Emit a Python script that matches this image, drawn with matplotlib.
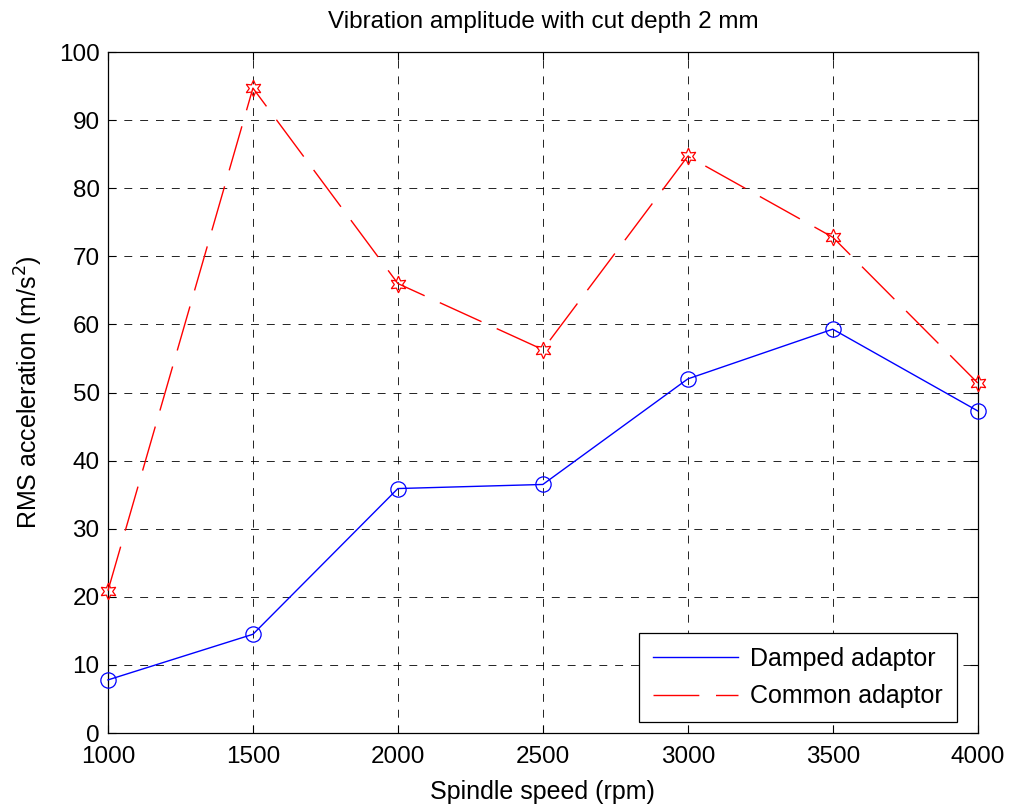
import matplotlib
matplotlib.use("Agg")
import matplotlib.pyplot as plt
from matplotlib.ticker import MultipleLocator

plt.rcParams['font.family'] = ['Liberation Sans', 'DejaVu Sans']

speed = [1000, 1500, 2000, 2500, 3000, 3500, 4000]
damped = [7.8, 14.5, 35.9, 36.5, 52.0, 59.3, 47.3]
common = [20.9, 94.7, 66.0, 56.3, 84.7, 72.8, 51.4]

fig = plt.figure(figsize=(10.09, 8.05), dpi=100)
ax = fig.add_axes([0.107, 0.0894, 0.862, 0.846])

ax.plot(speed, damped, color='blue', linewidth=1.0, marker='o', markersize=11,
        markerfacecolor='none', markeredgecolor='blue', markeredgewidth=0.9,
        label='Damped adaptor', clip_on=False, zorder=3)
ax.plot(speed, common, color='red', linewidth=1.0, dashes=(33, 12), marker=(6, 1, 0),
        markersize=12, markerfacecolor='none', markeredgecolor='red',
        markeredgewidth=0.9, label='Common adaptor', clip_on=False, zorder=3)

ax.set_xlim(1000, 4000)
ax.set_ylim(0, 100)
ax.xaxis.set_major_locator(MultipleLocator(500))
ax.yaxis.set_major_locator(MultipleLocator(10))
ax.grid(True, color='black', linestyle=(0, (9.5, 9.5)), linewidth=0.6)
ax.tick_params(direction='in', top=True, right=True, labelsize=17.5, length=6)
ax.tick_params(axis='x', pad=9)
ax.tick_params(axis='y', pad=6)
for s in ax.spines.values():
    s.set_linewidth(0.9)

ax.set_title('Vibration amplitude with cut depth 2 mm', fontsize=17.5, pad=17)
ax.set_xlabel('Spindle speed (rpm)', fontsize=18, labelpad=9)
ax.set_ylabel('RMS acceleration (m/s$^2$)', fontsize=18, labelpad=10)

leg = ax.legend(loc='lower right', bbox_to_anchor=(0.976, 0.016), fontsize=18,
                fancybox=False, edgecolor='black', framealpha=1, borderaxespad=0,
                handlelength=3.4, handletextpad=0.5, borderpad=0.55, labelspacing=0.55)
for h in leg.legend_handles:
    h.set_marker('')
leg.get_frame().set_linewidth(0.9)

fig.savefig('out.png', dpi=100)
